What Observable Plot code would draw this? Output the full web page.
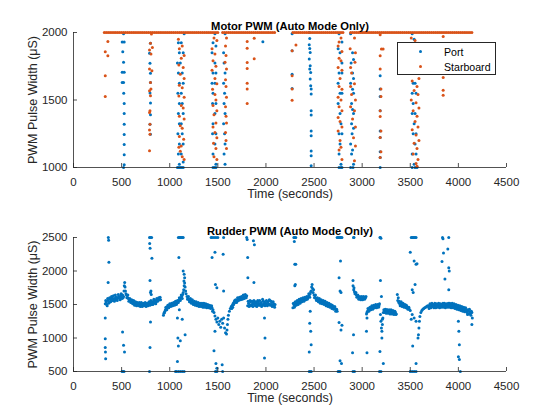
<!DOCTYPE html>
<html>
<head>
<meta charset="utf-8">
<script src="https://cdn.jsdelivr.net/npm/d3@7"></script>
<script src="https://cdn.jsdelivr.net/npm/@observablehq/plot@0.6"></script>
<style>
  html, body { margin: 0; padding: 0; background: white; }
  #wrap { position: relative; width: 560px; height: 420px; background: white; font-family: "Liberation Sans", Arial, sans-serif; }
  #wrap svg { display: block; }
  #legend { position: absolute; left: 397px; top: 42px; width: 97px; height: 31px; border: 1px solid #262626; background: white; font-size: 10.6px; color: #000; }
  .row { position: absolute; left: 0; height: 14px; line-height: 14px; }
  .sw { position: absolute; left: 21px; top: 5px; width: 3.4px; height: 3.4px; border-radius: 50%; }
  .lb { position: absolute; left: 46px; top: 0; white-space: nowrap; }
</style>
</head>
<body>
<div id="wrap">
  <div id="top"></div>
  <div id="bottom"></div>
  <div id="legend">
    <div class="row" style="top:2px"><div class="sw" style="background:#0072BD"></div><div class="lb">Port</div></div>
    <div class="row" style="top:17px"><div class="sw" style="background:#D95319"></div><div class="lb">Starboard</div></div>
  </div>
</div>
<script>
const BLUE = "#0072BD", ORANGE = "#D95319", INK = "#262626";
const xTicks = [0, 500, 1000, 1500, 2000, 2500, 3000, 3500, 4000, 4500];
const motorTicks = [1000, 1500, 2000];
const rudderTicks = [500, 1000, 1500, 2000, 2500];
const PWM_MAX = 2000;

// Starboard motor saturated at max PWM (times, seconds)
const starSatT = [320,340,360,380,400,420,440,460,480,500,520,540,560,580,600,620,640,660,680,700,720,740,760,780,800,820,840,860,880,900,920,940,960,980,1000,1020,1040,1060,1080,1100,1120,1140,1160,1180,1200,1220,1240,1260,1280,1300,1320,1340,1360,1380,1400,1420,1440,1460,1480,1500,
1550,1570,1590,1610,1630,1650,1670,1690,1710,1730,1750,1770,1790,1810,1830,1850,1870,1890,1910,1930,1950,1970,1990,2010,2030,2050,2070,2090,
2280,2300,2320,2340,2360,2380,2400,2420,2440,2460,2480,2500,2520,2540,2560,2580,2600,2620,2640,2660,2680,2700,2720,2740,2760,2780,2800,
2880,2900,2920,2940,2960,2980,3000,3020,3040,3060,3080,3100,3120,3140,3160,3180,3200,3220,3240,3260,3280,3300,3320,3340,3360,3380,3400,3420,3440,3460,3480,3500,3520,3540,3560,3580,3600,3620,3640,3660,3680,3700,3720,3740,3760,3780,3800,3820,3840,3860,3880,3900,3920,3940,3960,3980,4000,4020,4040,4060,4080,4100,4120,4140];

// Port motor PWM [time, value]
const portPts = [
[520,1990],[506,1930],[527,1930],[512,1857],[520,1780],[506,1705],[527,1705],[506,1630],[520,1630],[522,1550],[527,1475],[527,1400],[527,1320],[527,1245],[527,1170],[527,1095],[527,1020],[520,1000],
[800,1921],[790,1847],[795,1773],[800,1699],[800,1630],[795,1551],[800,1477],[800,1391],[795,1321],[800,1247],
[1150,1990],[1090,1925],[1120,1925],[1100,1850],[1140,1850],[1080,1775],[1110,1775],[1130,1700],[1090,1700],[1100,1625],[1140,1625],[1085,1550],[1120,1550],[1100,1475],[1130,1475],[1090,1400],[1140,1400],[1100,1325],[1120,1325],[1085,1250],[1130,1250],[1100,1175],[1140,1175],[1090,1100],[1120,1100],[1100,1025],[1140,1040],[1080,1000],[1095,1000],[1110,1000],[1125,1000],[1140,1000],
[1470,1990],[1450,1925],[1480,1900],[1440,1850],[1470,1775],[1450,1700],[1480,1700],[1440,1625],[1470,1625],[1450,1550],[1480,1475],[1445,1475],[1470,1400],[1450,1325],[1480,1250],[1445,1250],[1470,1175],[1450,1100],[1480,1025],[1450,1000],[1465,1000],[1480,1000],
[1575,1990],[1560,1850],[1565,1775],[1575,1700],[1560,1625],[1570,1550],[1565,1475],[1575,1400],[1560,1325],[1570,1250],[1575,1175],[1565,1100],[1575,1025],
[1968,1931],
[2272,1990],[2272,1864],[2272,1690],[2272,1585],
[2450,2000],[2455,1956],[2450,1909],[2455,1882],[2460,1852],[2450,1803],[2460,1753],[2455,1729],[2465,1704],[2460,1655],[2465,1605],[2470,1581],[2470,1544],[2470,1420],[2470,1388],[2470,1270],[2470,1235],[2470,1122],[2470,1087],[2470,1013],
[2760,1990],[2790,1930],[2750,1880],[2770,1850],[2790,1775],[2760,1700],[2790,1700],[2750,1625],[2770,1550],[2790,1550],[2750,1475],[2770,1400],[2780,1325],[2760,1250],[2790,1250],[2770,1175],[2760,1100],[2780,1025],[2760,1000],[2780,1000],[2790,1000],
[2880,1990],[2900,1850],[2910,1800],[2885,1775],[2900,1700],[2910,1660],[2880,1625],[2900,1580],[2910,1550],[2890,1475],[2900,1430],[2910,1400],[2890,1325],[2910,1290],[2895,1250],[2880,1175],[2900,1130],[2890,1100],[2910,1025],[2880,1000],[2905,1000],
[3187,1679],[3187,1581],[3187,1526],[3187,1420],[3187,1270],[3187,1222],[3187,1116],[3187,1074],[3187,1000],
[3520,1990],[3540,1950],[3560,1900],[3550,1850],[3520,1775],[3560,1700],[3530,1625],[3550,1625],[3520,1550],[3560,1550],[3530,1475],[3550,1400],[3520,1400],[3540,1325],[3560,1250],[3530,1250],[3550,1175],[3520,1100],[3560,1100],[3540,1025],[3520,1000],[3550,1000],[3570,1000]
];

// Starboard motor PWM below max [time, value]
const starPts = [
[357,1933],[330,1857],[357,1827],[330,1679],[330,1526],
[810,1988],[800,1921],[820,1889],[790,1870],[805,1840],[790,1729],[815,1716],[800,1630],[805,1581],[790,1568],[800,1531],[795,1420],[790,1407],[795,1321],[790,1277],[795,1247],[790,1124],
[1090,1950],[1130,1900],[1100,1880],[1150,1830],[1120,1810],[1095,1760],[1140,1740],[1110,1690],[1150,1660],[1100,1610],[1130,1590],[1150,1520],[1095,1530],[1120,1460],[1140,1440],[1100,1380],[1150,1360],[1110,1310],[1130,1290],[1100,1230],[1145,1210],[1120,1160],[1095,1150],[1130,1080],[1150,1060],[1110,1120],
[1460,1960],[1490,1940],[1440,1880],[1470,1840],[1450,1790],[1480,1750],[1440,1720],[1470,1660],[1490,1620],[1445,1580],[1470,1540],[1480,1500],[1450,1460],[1490,1420],[1460,1390],[1480,1330],[1450,1300],[1470,1260],[1490,1220],[1455,1180],[1480,1140],[1460,1080],[1490,1060],
[1590,1960],[1580,1900],[1585,1830],[1575,1780],[1590,1730],[1580,1650],[1585,1600],[1590,1520],[1580,1450],[1585,1380],[1590,1330],[1580,1260],[1585,1200],[1590,1140],
[1805,1933],[1805,1884],[1805,1778],[1805,1733],[1805,1625],[1805,1581],[1805,1474],[1878,1958],[1878,1805],
[2272,1864],[2272,1679],[2272,1581],[2272,1499],[2312,1907],
[2780,1960],[2760,1930],[2750,1900],[2790,1860],[2760,1810],[2780,1790],[2750,1740],[2790,1720],[2770,1660],[2760,1600],[2790,1580],[2750,1520],[2780,1500],[2760,1450],[2790,1420],[2750,1370],[2770,1340],[2790,1300],[2750,1270],[2770,1200],[2780,1150],[2760,1130],[2790,1060],
[2920,1960],[2875,1880],[2930,1850],[2880,1740],[2925,1780],[2890,1700],[2880,1600],[2920,1620],[2890,1540],[2930,1500],[2880,1450],[2920,1420],[2900,1360],[2930,1300],[2910,1220],[2930,1160],[2920,1050],
[3187,1983],[3218,1877],[3200,1877],[3187,1827],[3187,1729],[3195,1581],[3195,1526],[3187,1420],[3187,1378],[3195,1270],[3187,1222],[3195,1116],[3187,1074],
[3510,1960],[3550,1940],[3580,1920],[3530,1880],[3570,1860],[3590,1800],[3540,1760],[3510,1720],[3560,1700],[3590,1660],[3520,1640],[3570,1600],[3540,1570],[3580,1540],[3510,1500],[3560,1480],[3590,1440],[3530,1420],[3570,1380],[3550,1340],[3580,1300],[3520,1280],[3560,1240],[3590,1200],[3540,1180],[3570,1140],[3530,1100],[3580,1060],[3560,1030],[3570,1010],
[3842,1970],[3842,1667],[3842,1573],[3842,1536]
];

// Rudder PWM [time, value]
const rudderPts = [
[330,1510],[340,1540],[350,1480],[360,1560],[370,1530],[380,1580],[390,1550],[400,1600],[410,1560],[420,1590],[430,1570],[440,1610],[450,1580],[460,1600],[470,1620],[480,1590],[490,1630],[500,1600],[510,1640],[520,1620],
[525,1700],[528,1780],[532,1830],[536,1760],[540,1700],[545,1660],
[550,1640],[560,1610],[570,1590],[580,1570],[590,1560],[600,1545],[610,1530],[620,1540],[630,1520],[640,1510],[650,1525],[660,1500],[670,1515],[680,1505],[690,1495],[700,1510],[710,1500],[720,1490],[730,1505],[740,1495],[750,1510],[760,1500],[770,1490],[780,1505],
[790,1520],[800,1540],[810,1500],[820,1530],[830,1550],[840,1520],[850,1560],[860,1540],[870,1570],[880,1580],[890,1590],[900,1610],[905,1570],
[935,1340],[945,1380],[955,1420],[965,1440],[975,1460],[985,1470],[995,1480],[1005,1490],[1015,1500],[1025,1480],[1035,1510],[1045,1500],[1055,1520],[1065,1530],[1075,1520],[1085,1550],[1095,1560],[1105,1580],[1115,1600],[1125,1620],[1135,1650],[1145,1720],[1150,1780],[1155,1820],[1160,1760],
[1165,1700],[1170,1660],[1180,1620],[1190,1590],[1200,1570],[1210,1560],[1220,1540],[1230,1550],[1240,1530],[1250,1520],[1260,1510],[1270,1520],[1280,1500],[1290,1510],[1300,1495],[1310,1505],[1320,1490],[1330,1500],[1340,1485],[1350,1500],[1360,1480],[1370,1495],[1380,1475],[1390,1490],[1400,1470],[1410,1480],[1420,1460],[1430,1470],[1440,1450],
[1450,1420],[1460,1380],[1470,1330],[1480,1280],[1490,1240],[1500,1300],[1510,1200],[1520,1250],[1530,1160],[1540,1280],[1550,1220],[1560,1300],[1570,1150],[1580,1080],[1590,1060],[1595,1120],[1600,1200],[1605,1280],[1610,1340],[1620,1400],[1630,1440],[1640,1470],[1650,1490],[1660,1520],[1670,1540],[1680,1530],[1690,1560],[1700,1550],[1710,1580],[1720,1570],[1730,1590],[1740,1580],[1750,1600],[1760,1590],[1770,1610],[1780,1600],[1790,1620],[1800,1630],
[1810,1480],[1820,1520],[1830,1500],[1840,1540],[1850,1490],[1860,1510],[1870,1530],[1880,1500],[1890,1480],[1900,1520],[1910,1500],[1920,1540],[1930,1510],[1940,1490],[1950,1530],[1960,1500],[1970,1550],[1980,1510],[1990,1480],[2000,1520],[2010,1500],[2020,1540],[2030,1510],[2040,1560],[2050,1500],[2060,1530],[2070,1490],[2080,1510],[2090,1460],[2095,1500],
[2280,1450],[2290,1500],[2300,1480],[2310,1520],[2320,1510],[2330,1540],[2340,1530],[2350,1560],[2360,1550],[2370,1570],[2380,1560],[2390,1580],[2400,1570],[2410,1590],[2420,1600],[2430,1580],[2440,1620],[2450,1640],[2460,1660],[2470,1700],[2475,1760],[2480,1800],[2485,1740],
[2490,1680],[2500,1640],[2510,1610],[2520,1590],[2530,1570],[2540,1580],[2550,1550],[2560,1560],[2570,1540],[2580,1550],[2590,1530],[2600,1520],[2610,1540],[2620,1510],[2630,1500],[2640,1520],[2650,1490],[2660,1500],[2670,1480],[2680,1470],[2690,1490],[2700,1460],[2710,1450],[2720,1440],[2730,1420],[2740,1400],
[2905,1780],[2912,1720],[2920,1690],[2930,1660],[2940,1640],[2950,1620],[2960,1610],[2970,1600],[2980,1590],[2990,1600],[3000,1585],[3010,1600],[3020,1590],[3030,1610],[3040,1620],
[3045,1360],[3055,1400],[3065,1420],[3075,1440],[3085,1430],[3095,1450],[3105,1460],[3115,1450],[3125,1470],[3135,1460],[3145,1480],[3155,1470],[3165,1490],[3175,1480],[3180,1510],
[3190,1350],[3195,1250],[3200,1150],[3205,1100],[3210,1200],[3215,1300],[3220,1380],
[3225,1420],[3235,1410],[3245,1400],[3255,1420],[3265,1390],[3275,1410],[3285,1400],[3295,1380],[3305,1400],[3315,1390],[3325,1370],[3335,1390],[3345,1380],[3355,1360],
[3365,1650],[3370,1560],[3380,1530],[3390,1510],[3400,1500],[3410,1520],[3420,1490],[3430,1500],[3440,1480],[3450,1470],[3460,1490],[3470,1460],[3480,1450],[3490,1430],[3500,1410],
[3520,1350],[3540,1300],[3560,1250],[3580,1000],[3585,1050],[3590,1150],[3595,1250],[3600,1320],[3610,1380],[3620,1410],[3630,1430],[3640,1440],[3650,1450],[3660,1460],[3670,1470],[3680,1480],
[3690,1470],[3700,1490],[3710,1480],[3720,1500],[3730,1470],[3740,1490],[3750,1480],[3760,1500],[3770,1470],[3780,1490],[3790,1480],[3800,1500],[3810,1470],[3820,1490],[3830,1480],[3840,1520],[3850,1470],[3860,1490],[3870,1480],[3880,1500],[3890,1470],[3900,1490],[3910,1520],[3920,1480],[3930,1500],[3940,1470],[3950,1490],[3960,1460],[3970,1480],[3980,1450],[3990,1470],[4000,1440],[4010,1460],[4020,1430],[4030,1450],[4040,1420],[4050,1440],[4060,1410],[4070,1430],[4080,1400],[4090,1380],[4100,1420],[4110,1360],[4120,1390],[4130,1340],[4140,1380],[4145,1300],
[335,1560],[345,1500],[355,1590],[365,1520],[375,1600],[385,1540],[395,1620],[405,1580],[415,1630],[425,1550],[435,1640],[445,1600],[455,1560],[465,1650],[475,1600],[485,1570],[495,1660],[505,1590],[515,1600],
[555,1600],[565,1640],[575,1550],[585,1590],[595,1530],[605,1570],[615,1510],[625,1560],[635,1490],[645,1540],[655,1480],[665,1530],[675,1480],[685,1530],[695,1470],[705,1530],[715,1470],[725,1520],[735,1480],[745,1530],[755,1470],[765,1520],[775,1480],[785,1540],[795,1490],[805,1560],[815,1520],[825,1500],[835,1580],[845,1540],[855,1510],[865,1590],[875,1550],[885,1600],[895,1570],
[940,1370],[950,1400],[960,1460],[970,1420],[980,1490],[990,1450],[1000,1510],[1010,1470],[1020,1520],[1030,1480],[1040,1530],[1050,1490],[1060,1550],[1070,1500],[1080,1560],[1090,1530],[1100,1600],[1110,1560],[1120,1640],[1130,1590],[1140,1680],
[1185,1580],[1195,1620],[1205,1540],[1215,1590],[1225,1520],[1235,1570],[1245,1500],[1255,1550],[1265,1490],[1275,1540],[1285,1480],[1295,1530],[1305,1470],[1315,1520],[1325,1470],[1335,1520],[1345,1460],[1355,1520],[1365,1460],[1375,1510],[1385,1450],[1395,1500],[1405,1450],[1415,1490],[1425,1440],[1435,1480],
[1645,1440],[1655,1460],[1665,1500],[1675,1560],[1685,1570],[1695,1530],[1705,1600],[1715,1560],[1725,1610],[1735,1570],[1745,1620],[1755,1580],[1765,1640],[1775,1590],[1785,1650],[1795,1600],
[1815,1550],[1825,1470],[1835,1560],[1845,1480],[1855,1550],[1865,1470],[1875,1560],[1885,1530],[1895,1540],[1905,1470],[1915,1560],[1925,1490],[1935,1560],[1945,1520],[1955,1470],[1965,1580],[1975,1490],[1985,1540],[1995,1500],[2005,1560],[2015,1480],[2025,1500],[2035,1570],[2045,1490],[2055,1550],[2065,1470],[2075,1540],[2085,1480],
[2285,1520],[2295,1460],[2305,1540],[2315,1490],[2325,1560],[2335,1500],[2345,1580],[2355,1520],[2365,1590],[2375,1540],[2385,1600],[2395,1550],[2405,1610],[2415,1570],[2425,1620],[2435,1600],[2445,1660],[2455,1610],[2465,1690],[2495,1720],[2505,1600],[2515,1640],[2525,1560],[2535,1600],[2545,1540],[2555,1590],[2565,1520],[2575,1570],[2585,1510],[2595,1560],[2605,1500],[2615,1550],[2625,1480],[2635,1530],[2645,1470],[2655,1520],[2665,1460],[2675,1500],[2685,1440],[2695,1470],[2705,1430],[2715,1470],[2725,1400],[2735,1430],
[2915,1750],[2925,1660],[2935,1680],[2945,1610],[2955,1640],[2965,1580],[2975,1620],[2985,1570],[2995,1620],[3005,1570],[3015,1620],[3025,1580],[3035,1600],
[3050,1380],[3060,1440],[3070,1400],[3080,1460],[3090,1420],[3100,1480],[3110,1430],[3120,1490],[3130,1450],[3140,1500],[3150,1450],[3160,1500],[3170,1460],
[3230,1380],[3240,1430],[3250,1370],[3260,1420],[3270,1370],[3280,1420],[3290,1360],[3300,1420],[3310,1360],[3320,1410],[3330,1350],[3340,1400],[3350,1350],
[3375,1600],[3385,1550],[3395,1480],[3405,1540],[3415,1470],[3425,1520],[3435,1460],[3445,1500],[3455,1450],[3465,1470],[3475,1430],[3485,1460],
[3695,1440],[3705,1510],[3715,1450],[3725,1520],[3735,1500],[3745,1450],[3755,1520],[3765,1450],[3775,1510],[3785,1460],[3795,1520],[3805,1450],[3815,1510],[3825,1460],[3835,1500],[3845,1460],[3855,1520],[3865,1450],[3875,1510],[3885,1460],[3895,1520],[3905,1460],[3915,1490],[3925,1450],[3935,1520],[3945,1450],[3955,1510],[3965,1440],[3975,1500],[3985,1430],[3995,1490],[4005,1420],[4015,1480],[4025,1410],[4035,1470],[4045,1400],[4055,1460],[4065,1390],[4075,1450],[4085,1420],[4095,1350],[4105,1400],[4115,1430],[4125,1370],[4135,1400],
[330,1300],[330,990],[330,860],[332,790],[334,690],[362,2500],[365,2460],[368,2130],[360,1830],[505,500],[515,500],[525,500],[510,1090],[520,890],[530,790],
[790,2500],[800,2500],[812,2500],[792,2410],[796,2340],[815,2190],[795,1860],[805,1700],[800,1680],[808,1650],[800,1240],[795,860],[790,500],
[1090,2500],[1100,2500],[1110,2500],[1120,2500],[1130,2500],[1140,2500],[1095,2200],[1140,2000],[1150,1950],[1155,1900],[1148,1850],[1080,1300],[1100,1420],[1130,1280],[1160,1050],[1085,1000],[1090,880],[1110,960],[1080,650],[1060,500],[1070,500],[1090,500],[1110,500],[1130,500],[1150,500],
[1430,2500],[1440,2500],[1460,2500],[1480,2500],[1500,2500],[1440,2200],[1470,2280],[1475,1800],[1490,1750],[1445,1400],[1470,1100],[1460,810],[1480,620],[1490,550],[1475,500],[1490,500],
[1560,2500],[1555,2250],[1560,1700],[1545,600],[1550,500],
[1800,2500],[1805,2470],[1810,2200],[1812,1900],[1870,2450],[1880,2390],[1875,1830],[1985,1300],[1990,1000],[1985,700],
[2290,2500],[2300,2500],[2310,2500],[2295,2440],[2300,2100],[2310,2100],[2305,1800],[2300,1780],
[2450,500],[2460,500],[2470,500],[2460,1400],[2455,1220],[2465,1100],[2470,900],[2450,790],
[2740,2500],[2750,2500],[2760,2500],[2770,2500],[2780,2500],[2790,2500],[2775,2150],[2760,1900],[2770,1700],[2780,1680],[2760,1230],[2790,1190],[2780,1120],[2770,660],[2785,620],[2750,500],[2760,500],[2770,500],
[2910,2500],[2915,2500],[2905,1860],[2910,1050],[2900,780],[2920,500],[2905,500],
[3050,1300],[3045,1100],[3050,780],
[3185,2500],[3190,2500],[3195,2490],[3190,1860],[3200,1620],[3210,1280],[3205,1000],[3185,800],[3220,620],[3195,500],[3180,500],
[3510,2500],[3520,2500],[3530,2500],[3540,2500],[3550,2500],[3560,2500],[3500,2280],[3540,2150],[3560,2100],[3570,2110],[3550,1800],[3520,1720],[3530,1680],[3510,1280],[3525,880],[3560,620],[3500,500],[3520,500],[3540,500],[3560,500],
[3835,2500],[3840,2480],[3900,2500],[3845,2270],[3830,2140],[3890,2330],[3900,2050],[3905,2000],[3860,1880],[3900,1720],
[4000,1250],[4005,1100],[4010,900],[4000,720],[4010,680],[4020,500],[4140,1200]
];

const FONT = "'Liberation Sans', Arial, Helvetica, sans-serif";

function frameMarks(yTicks, yMin, frameW, frameH, title) {
  return [
    Plot.axisX({ticks: xTicks, tickSize: 0, tickPadding: 10, tickFormat: "d", label: null, fill: INK, fontSize: 11.5}),
    Plot.axisY({ticks: yTicks, tickSize: 0, tickPadding: 6, tickFormat: "d", label: null, fill: INK, fontSize: 11.5}),
    Plot.tickX(xTicks, {x: d => d, insetTop: frameH - 4, stroke: INK, strokeWidth: 0.8}),
    Plot.tickY(yTicks, {y: d => d, insetRight: frameW - 4, stroke: INK, strokeWidth: 0.8}),
    Plot.ruleX([0], {stroke: INK, strokeWidth: 0.8}),
    Plot.ruleY([yMin], {stroke: INK, strokeWidth: 0.8}),
    Plot.text([title], {text: d => d, frameAnchor: "top", dy: -10.5, fontWeight: "bold", fontSize: 11.2, fill: "#000"}),
    Plot.text(["Time (seconds)"], {text: d => d, frameAnchor: "bottom", dy: 30.5, fontSize: 12.5, fill: INK}),
    Plot.text(["PWM Pulse Width (μS)"], {text: d => d, frameAnchor: "left", textAnchor: "middle", lineAnchor: "middle", rotate: -90, dx: -40.5, fontSize: 12.5, fill: INK})
  ];
}

const topPlot = Plot.plot({
  width: 560, height: 210,
  marginLeft: 73, marginRight: 54, marginTop: 32, marginBottom: 43,
  x: {domain: [0, 4500]},
  y: {domain: [1000, 2000]},
  style: {fontFamily: FONT, fontSize: "11.5px", color: INK, background: "white", overflow: "visible"},
  marks: [
    Plot.dot(portPts, {x: d => d[0], y: d => d[1], r: 1.5, fill: BLUE}),
    Plot.dot(starSatT, {x: d => d, y: () => PWM_MAX, r: 1.5, fill: ORANGE}),
    Plot.dot(starPts, {x: d => d[0], y: d => d[1], r: 1.5, fill: ORANGE}),
    ...frameMarks(motorTicks, 1000, 433, 135, "Motor PWM (Auto Mode Only)")
  ]
});

const bottomPlot = Plot.plot({
  width: 560, height: 210,
  marginLeft: 73, marginRight: 54, marginTop: 27, marginBottom: 49,
  x: {domain: [0, 4500]},
  y: {domain: [500, 2500]},
  style: {fontFamily: FONT, fontSize: "11.5px", color: INK, background: "white", overflow: "visible"},
  marks: [
    Plot.dot(rudderPts, {x: d => d[0], y: d => d[1], r: 1.5, fill: BLUE}),
    ...frameMarks(rudderTicks, 500, 433, 134, "Rudder PWM (Auto Mode Only)")
  ]
});

document.getElementById("top").appendChild(topPlot);
document.getElementById("bottom").appendChild(bottomPlot);
</script>
</body>
</html>
